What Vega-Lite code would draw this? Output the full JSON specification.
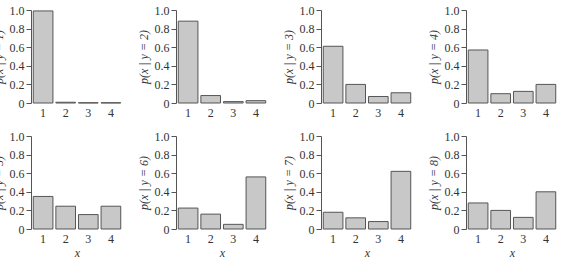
{
  "$schema": "https://vega.github.io/schema/vega-lite/v6.json",
  "data": {"values": [
    {"y": 1, "x": 1, "p": 0.99}, {"y": 1, "x": 2, "p": 0.008}, {"y": 1, "x": 3, "p": 0.003}, {"y": 1, "x": 4, "p": 0.003},
    {"y": 2, "x": 1, "p": 0.88}, {"y": 2, "x": 2, "p": 0.08}, {"y": 2, "x": 3, "p": 0.015}, {"y": 2, "x": 4, "p": 0.025},
    {"y": 3, "x": 1, "p": 0.61}, {"y": 3, "x": 2, "p": 0.20}, {"y": 3, "x": 3, "p": 0.07}, {"y": 3, "x": 4, "p": 0.11},
    {"y": 4, "x": 1, "p": 0.57}, {"y": 4, "x": 2, "p": 0.10}, {"y": 4, "x": 3, "p": 0.125}, {"y": 4, "x": 4, "p": 0.20},
    {"y": 5, "x": 1, "p": 0.35}, {"y": 5, "x": 2, "p": 0.245}, {"y": 5, "x": 3, "p": 0.155}, {"y": 5, "x": 4, "p": 0.245},
    {"y": 6, "x": 1, "p": 0.225}, {"y": 6, "x": 2, "p": 0.16}, {"y": 6, "x": 3, "p": 0.05}, {"y": 6, "x": 4, "p": 0.56},
    {"y": 7, "x": 1, "p": 0.18}, {"y": 7, "x": 2, "p": 0.12}, {"y": 7, "x": 3, "p": 0.08}, {"y": 7, "x": 4, "p": 0.62},
    {"y": 8, "x": 1, "p": 0.28}, {"y": 8, "x": 2, "p": 0.20}, {"y": 8, "x": 3, "p": 0.125}, {"y": 8, "x": 4, "p": 0.40}
  ]},
  "columns": 4,
  "spacing": {"column": 14, "row": 12},
  "padding": {"left": -8, "top": 4, "right": 0, "bottom": 0},
  "concat": [
    {"transform": [{"filter": "datum.y == 1"}], "width": 92, "height": 93, "mark": {"type": "bar", "fill": "#c8c8c8", "stroke": "#555555", "strokeWidth": 1},
     "encoding": {"x": {"field": "x", "type": "ordinal", "scale": {"paddingInner": 0.13, "paddingOuter": 0.1}, "axis": {"title": null}},
                  "y": {"field": "p", "type": "quantitative", "scale": {"domain": [0, 1]}, "axis": {"title": "p(x | y = 1)", "values": [0, 0.2, 0.4, 0.6, 0.8, 1.0]}}}},
    {"transform": [{"filter": "datum.y == 2"}], "width": 92, "height": 93, "mark": {"type": "bar", "fill": "#c8c8c8", "stroke": "#555555", "strokeWidth": 1},
     "encoding": {"x": {"field": "x", "type": "ordinal", "scale": {"paddingInner": 0.13, "paddingOuter": 0.1}, "axis": {"title": null}},
                  "y": {"field": "p", "type": "quantitative", "scale": {"domain": [0, 1]}, "axis": {"title": "p(x | y = 2)", "values": [0, 0.2, 0.4, 0.6, 0.8, 1.0]}}}},
    {"transform": [{"filter": "datum.y == 3"}], "width": 92, "height": 93, "mark": {"type": "bar", "fill": "#c8c8c8", "stroke": "#555555", "strokeWidth": 1},
     "encoding": {"x": {"field": "x", "type": "ordinal", "scale": {"paddingInner": 0.13, "paddingOuter": 0.1}, "axis": {"title": null}},
                  "y": {"field": "p", "type": "quantitative", "scale": {"domain": [0, 1]}, "axis": {"title": "p(x | y = 3)", "values": [0, 0.2, 0.4, 0.6, 0.8, 1.0]}}}},
    {"transform": [{"filter": "datum.y == 4"}], "width": 92, "height": 93, "mark": {"type": "bar", "fill": "#c8c8c8", "stroke": "#555555", "strokeWidth": 1},
     "encoding": {"x": {"field": "x", "type": "ordinal", "scale": {"paddingInner": 0.13, "paddingOuter": 0.1}, "axis": {"title": null}},
                  "y": {"field": "p", "type": "quantitative", "scale": {"domain": [0, 1]}, "axis": {"title": "p(x | y = 4)", "values": [0, 0.2, 0.4, 0.6, 0.8, 1.0]}}}},
    {"transform": [{"filter": "datum.y == 5"}], "width": 92, "height": 93, "mark": {"type": "bar", "fill": "#c8c8c8", "stroke": "#555555", "strokeWidth": 1},
     "encoding": {"x": {"field": "x", "type": "ordinal", "scale": {"paddingInner": 0.13, "paddingOuter": 0.1}, "axis": {"title": "x"}},
                  "y": {"field": "p", "type": "quantitative", "scale": {"domain": [0, 1]}, "axis": {"title": "p(x | y = 5)", "values": [0, 0.2, 0.4, 0.6, 0.8, 1.0]}}}},
    {"transform": [{"filter": "datum.y == 6"}], "width": 92, "height": 93, "mark": {"type": "bar", "fill": "#c8c8c8", "stroke": "#555555", "strokeWidth": 1},
     "encoding": {"x": {"field": "x", "type": "ordinal", "scale": {"paddingInner": 0.13, "paddingOuter": 0.1}, "axis": {"title": "x"}},
                  "y": {"field": "p", "type": "quantitative", "scale": {"domain": [0, 1]}, "axis": {"title": "p(x | y = 6)", "values": [0, 0.2, 0.4, 0.6, 0.8, 1.0]}}}},
    {"transform": [{"filter": "datum.y == 7"}], "width": 92, "height": 93, "mark": {"type": "bar", "fill": "#c8c8c8", "stroke": "#555555", "strokeWidth": 1},
     "encoding": {"x": {"field": "x", "type": "ordinal", "scale": {"paddingInner": 0.13, "paddingOuter": 0.1}, "axis": {"title": "x"}},
                  "y": {"field": "p", "type": "quantitative", "scale": {"domain": [0, 1]}, "axis": {"title": "p(x | y = 7)", "values": [0, 0.2, 0.4, 0.6, 0.8, 1.0]}}}},
    {"transform": [{"filter": "datum.y == 8"}], "width": 92, "height": 93, "mark": {"type": "bar", "fill": "#c8c8c8", "stroke": "#555555", "strokeWidth": 1},
     "encoding": {"x": {"field": "x", "type": "ordinal", "scale": {"paddingInner": 0.13, "paddingOuter": 0.1}, "axis": {"title": "x"}},
                  "y": {"field": "p", "type": "quantitative", "scale": {"domain": [0, 1]}, "axis": {"title": "p(x | y = 8)", "values": [0, 0.2, 0.4, 0.6, 0.8, 1.0]}}}}
  ],
  "config": {
    "view": {"stroke": null},
    "axis": {"labelFont": "Liberation Serif", "titleFont": "Liberation Serif", "labelFontSize": 12, "titleFontSize": 12, "titleFontWeight": "normal", "titleFontStyle": "italic", "labelColor": "#333333", "titleColor": "#333333", "grid": false},
    "axisY": {"labelExpr": "datum.value == 0 ? '0' : format(datum.value, '.1f')", "tickSize": 5, "tickColor": "#555555", "domainColor": "#555555", "labelPadding": 2, "titlePadding": 4},
    "axisX": {"domain": false, "ticks": false, "labelAngle": 0, "labelPadding": 4, "titlePadding": 3}
  }
}
